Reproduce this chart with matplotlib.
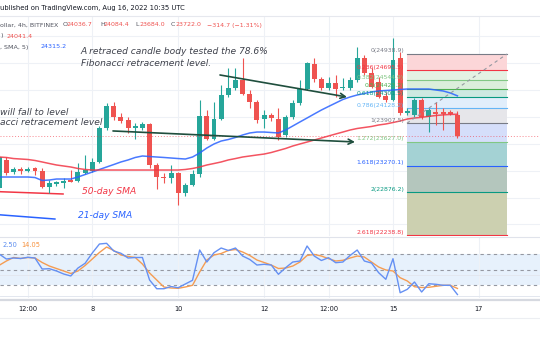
import numpy as np
import matplotlib
matplotlib.use("Agg")
import matplotlib.pyplot as plt

# BTC/USD 4h (Bitfinex), Aug 2022
FIRST_BAR = 5 + 20 / 24   # Aug 5, 20:00
BAR = 1 / 6               # one 4h bar, in days

opens = [22942, 23360, 23180, 23225, 23196, 23240, 23196, 22957, 23002, 23016,
         23061, 23046, 23166, 23196, 23330, 23836, 24164, 24000, 23955, 23836,
         23836, 23896, 23285, 23106, 23091, 23166, 22868, 22987, 23151, 24015,
         23672, 23970, 24328, 24432, 24551, 24343, 24224, 23970, 24030, 23970,
         23732, 24000, 24209, 24417, 24790, 24566, 24432, 24507, 24432, 24432,
         24551, 24879, 24656, 24522, 24313, 24253, 24879, 24060, 24030, 24253,
         24000, 24075, 24075, 24075, 24036.7]
highs = [23434, 23404, 23255, 23255, 23255, 23255, 23240, 23061, 23046, 23091,
         23210, 23315, 23434, 23389, 23866, 24209, 24224, 24060, 24000, 23911,
         23926, 23911, 23315, 23166, 23285, 23180, 23016, 23210, 24253, 24104,
         24224, 24477, 24730, 24730, 24879, 24402, 24253, 24104, 24060, 24134,
         24030, 24253, 24551, 24820, 24879, 24596, 24596, 24626, 24581, 24596,
         25043, 24924, 24730, 24596, 24373, 25177, 24969, 24134, 24283, 24283,
         24134, 24224, 24134, 24104, 24084.4]
lows = [22912, 23136, 23151, 23151, 23180, 23136, 22935, 22868, 22972, 22942,
        23031, 23031, 23158, 23180, 23315, 23806, 23955, 23911, 23762, 23672,
        23806, 23240, 22927, 23016, 23016, 22689, 22823, 22972, 23106, 23657,
        23657, 23955, 24298, 24402, 24328, 24134, 23911, 23836, 23941, 23657,
        23702, 23970, 24179, 24402, 24522, 24402, 24402, 24298, 24402, 24402,
        24522, 24626, 24432, 24283, 24224, 24238, 24030, 24030, 24000, 23970,
        23776, 23881, 23806, 24030, 23684.0]
closes = [23404, 23166, 23225, 23196, 23225, 23196, 22950, 23016, 23031, 23046,
          23039, 23180, 23210, 23330, 23836, 24164, 24000, 23941, 23836, 23866,
          23896, 23285, 23106, 23084, 23166, 22868, 22987, 23151, 24015, 23672,
          23970, 24328, 24432, 24551, 24343, 24224, 23955, 24030, 23985, 23702,
          24000, 24209, 24417, 24805, 24566, 24432, 24507, 24417, 24447, 24551,
          24879, 24656, 24447, 24298, 24253, 24849, 24060, 24090, 24253, 24000,
          24104, 24052, 24052, 24045, 23722.0]

sma21 = [23106, 23106, 23106, 23106, 23106, 23098, 23054, 23061, 23076, 23076,
         23076, 23106, 23143, 23180, 23218, 23255, 23292, 23330, 23360, 23397,
         23419, 23411, 23404, 23397, 23389, 23381, 23374, 23404, 23464, 23538,
         23598, 23642, 23665, 23695, 23732, 23762, 23776, 23776, 23769, 23762,
         23806, 23866, 23926, 23985, 24045, 24104, 24157, 24209, 24261, 24298,
         24328, 24350, 24373, 24388, 24395, 24402, 24410, 24417, 24417, 24417,
         24417, 24402, 24388, 24358, 24315.2]
sma50 = [23404, 23397, 23381, 23374, 23367, 23352, 23330, 23307, 23285, 23270,
         23255, 23233, 23218, 23210, 23210, 23210, 23210, 23210, 23210, 23210,
         23210, 23210, 23210, 23210, 23210, 23210, 23218, 23233, 23255, 23285,
         23307, 23330, 23360, 23381, 23404, 23419, 23434, 23448, 23471, 23501,
         23531, 23568, 23598, 23627, 23657, 23687, 23717, 23747, 23776, 23806,
         23829, 23844, 23859, 23881, 23896, 23918, 23941, 23970, 23985, 23995,
         24010, 24022, 24032, 24038, 24041.4]

stoch_k = [79.4, 69.9, 71.8, 70.9, 73.2, 71.8, 50.9, 51.5, 47.2, 41.5,
           37.7, 52.8, 61.8, 81.3, 98.4, 99.7, 85.1, 80.8, 71.8, 72.8,
           72.8, 30.1, 13.5, 13.5, 17.7, 15.4, 22.5, 29.5, 87.0, 64.2,
           81.9, 90.8, 86.1, 90.8, 75.6, 69.0, 58.5, 59.9, 58.5, 40.9,
           53.4, 64.2, 66.1, 94.6, 75.6, 67.1, 72.4, 62.9, 64.2, 76.6,
           87.0, 66.1, 62.3, 43.9, 31.4, 70.5, 5.9, 12.4, 26.3, 7.3,
           23.0, 21.9, 20.0, 20.0, 2.50]
stoch_d = [58.0, 66.1, 72.8, 70.9, 72.8, 71.8, 63.3, 56.6, 51.9, 47.2,
           42.4, 47.2, 57.6, 69.9, 82.3, 92.7, 86.1, 77.5, 74.7, 72.8,
           60.4, 43.4, 30.1, 16.8, 14.9, 14.3, 16.8, 20.0, 45.3, 68.0,
           77.5, 80.4, 86.1, 88.0, 83.2, 76.6, 68.0, 63.3, 58.5, 51.9,
           52.8, 56.6, 64.2, 76.6, 78.5, 75.6, 70.5, 66.1, 67.5, 71.8,
           75.6, 73.7, 64.2, 54.7, 49.1, 47.2, 34.4, 28.2, 17.3, 15.8,
           16.2, 18.1, 20.0, 20.0, 14.05]

# fibonacci retracement drawing
fib_ratios = ["0", "0.236", "0.382", "0.5", "0.618", "0.786", "1", "1.272", "1.618", "2", "2.618"]
fib_prices = [24938.9, 24695.5, 24544.9, 24423.2, 24301.5, 24128.2, 23907.5, 23627.0, 23270.1, 22876.2, 22238.8]
fib_colors = ["#787b86", "#f23645", "#81c784", "#4caf50", "#089981", "#64b5f6",
              "#787b86", "#81c784", "#2962ff", "#089981", "#f23645"]
fib_fills = ["#fcd6d8", "#e4f2e3", "#dbeedb", "#cde9e1", "#e1eefb",
             "#e6e6ea", "#d5defa", "#a4d2d4", "#b4c6bd", "#ccd0b0"]
fib_start, fib_end = 15.326, 17.654

# hand-drawn trend lines (day, price)
upper_trend = [(10.973, 24626), (13.929, 24298)]
lower_trend = [(8.482, 23792), (14.115, 23628)]
sma50_marker = [(5.80, 22888), (7.32, 22853)]
sma21_marker = [(5.80, 22545), (7.13, 22480)]

tick_days = [6.5, 8, 10, 12, 13.5, 15, 17]
tick_labels = ["12:00", "8", "10", "12", "12:00", "15", "17"]
last_close = closes[-1]

UP, DOWN = "#26a69a", "#ef5350"
BLUE, RED, ORANGE = "#2962ff", "#f23645", "#f59c52"
GRID = "#eef1f6"
TXT = "#131722"
W, H = 540, 340


def fx(x):
    return x / W


def fy(y):
    return 1 - y / H


def main():
    times = FIRST_BAR + np.arange(len(opens)) * BAR
    o, h, l, c = map(np.array, (opens, highs, lows, closes))
    cols = np.where(c >= o, UP, DOWN)

    fig = plt.figure(figsize=(W / 100, H / 100), dpi=100)
    ax = fig.add_axes([0, fy(236), 1, (236 - 17) / H])
    ax_st = fig.add_axes([0, fy(298), 1, (298 - 237) / H], sharex=ax)
    xlim = (5.852, 18.422)

    # --- price pane ---
    ax.set_xlim(*xlim)
    ax.set_ylim(22227, 25490)
    for p in range(22400, 25400, 400):
        ax.axhline(p, color=GRID, lw=0.8, zorder=0)
    for d in tick_days:
        ax.axvline(d, color=GRID, lw=0.8, zorder=0)

    # fib bands and levels
    for i in range(1, len(fib_prices)):
        ax.fill_between([fib_start, fib_end], fib_prices[i], fib_prices[i - 1],
                        color=fib_fills[i - 1], lw=0, zorder=1)
    for ratio, price, col in zip(fib_ratios, fib_prices, fib_colors):
        ax.plot([fib_start, fib_end], [price, price], color=col, lw=0.8, zorder=2)
        ax.text(15.256, price + 10, f"{ratio}({price:.1f})", color=col, fontsize=4.4,
                ha="right", va="bottom", zorder=6)
    ax.plot([fib_start, fib_end], [fib_prices[6], fib_prices[0]], color="#9598a1",
            lw=0.8, ls=(0, (3, 3)), zorder=5)

    # candles
    ax.vlines(times, l, h, colors=cols, lw=0.8, zorder=3)
    body = np.maximum(np.abs(c - o), 12)
    ax.bar(times, body, bottom=np.minimum(o, c), width=0.115, color=cols, lw=0, zorder=3)

    ax.plot(times, sma21, color=BLUE, lw=1.1, zorder=4, alpha=0.85)
    ax.plot(times, sma50, color=RED, lw=1.1, zorder=4, alpha=0.85)
    ax.axhline(last_close, color=RED, lw=0.7, ls=(0, (1, 2)), alpha=0.6, zorder=4)

    # annotations
    for start, end in (upper_trend, lower_trend):
        ax.annotate("", xy=end, xytext=start, zorder=5,
                    arrowprops=dict(arrowstyle="->", color="#1f4e3d", lw=1.2,
                                    shrinkA=0, shrinkB=0, mutation_scale=9))
    ax.plot(*zip(*sma50_marker), color=RED, lw=1.1)
    ax.plot(*zip(*sma21_marker), color=BLUE, lw=1.1)

    note = dict(fontsize=6.6, style="italic", color="#3f424c", va="center", zorder=7)
    ax.text(7.737, 24969, "A retraced candle body tested the 78.6%", **note)
    ax.text(7.737, 24797, "Fibonacci retracement level.", **note)
    ax.text(5.856, 24060, "will fall to level", **note)
    ax.text(5.856, 23911, "acci retracement level", **note)
    ax.text(7.761, 22883, "50-day SMA", fontsize=6.6, style="italic", color=RED, va="center")
    ax.text(7.668, 22525, "21-day SMA", fontsize=6.6, style="italic", color=BLUE, va="center")

    for s in ax.spines.values():
        s.set_visible(False)
    ax.tick_params(left=False, bottom=False, labelleft=False, labelbottom=False)

    # --- stoch pane ---
    ax_st.set_ylim(-4.1, 111.7)
    ax_st.axhspan(20, 80, color="#e7f1fc", lw=0, zorder=0)
    for v in (0, 40):
        ax_st.axhline(v, color="#e3e7ef", lw=0.7, zorder=1)
    for v in (20, 50, 80):
        ax_st.axhline(v, color="#9598a1", lw=0.8, ls=(0, (3, 3)), zorder=1)
    for d in tick_days:
        ax_st.axvline(d, color=GRID, lw=0.8, zorder=0)
    ax_st.plot(times, stoch_k, color="#6590f3", lw=1.0, zorder=3)
    ax_st.plot(times, stoch_d, color=ORANGE, lw=1.0, zorder=2)
    for s in ax_st.spines.values():
        s.set_visible(False)
    ax_st.set_xticks(tick_days)
    ax_st.set_xticklabels(tick_labels)
    ax_st.tick_params(left=False, labelleft=False, length=0, pad=6,
                      labelsize=4.8, labelcolor=TXT)

    # --- header / legend text and separators ---
    fig.text(fx(0), fy(8), "ublished on TradingView.com, Aug 16, 2022 10:35 UTC",
             fontsize=4.85, color=TXT, va="center")
    legend = [(0, "ollar, 4h, BITFINEX", "#50535e"), (63, "O", "#50535e"), (66.5, "24036.7", DOWN),
              (100, "H", "#50535e"), (104, "24084.4", DOWN), (135, "L", "#50535e"),
              (139, "23684.0", DOWN), (171, "C", "#50535e"), (175, "23722.0", DOWN),
              (207, "\u2212314.7 (\u22121.31%)", DOWN)]
    for x, s, col in legend:
        fig.text(fx(x), fy(25), s, fontsize=4.5, color=col, va="center")
    fig.text(fx(0), fy(36), ")", fontsize=4.6, color="#50535e", va="center")
    fig.text(fx(7), fy(36), "24041.4", fontsize=4.6, color=DOWN, va="center")
    fig.text(fx(0), fy(47), ", SMA, 5)", fontsize=4.6, color="#50535e", va="center")
    fig.text(fx(41), fy(47), "24315.2", fontsize=4.6, color=BLUE, va="center")
    fig.text(fx(3), fy(245), "2.50", fontsize=4.8, color="#5b8def", va="center")
    fig.text(fx(21), fy(245), "14.05", fontsize=4.8, color="#f7913d", va="center")

    for y, col, lw in ((16, "#e6e8ee", 0.8), (236.5, "#e0e3eb", 0.8),
                       (299.5, "#d6d9e0", 1.6), (318, "#eceef2", 0.8)):
        fig.add_artist(plt.Line2D([0, 1], [fy(y), fy(y)], color=col, lw=lw,
                                  transform=fig.transFigure))

    fig.savefig("out.png", dpi=100)


if __name__ == "__main__":
    main()
